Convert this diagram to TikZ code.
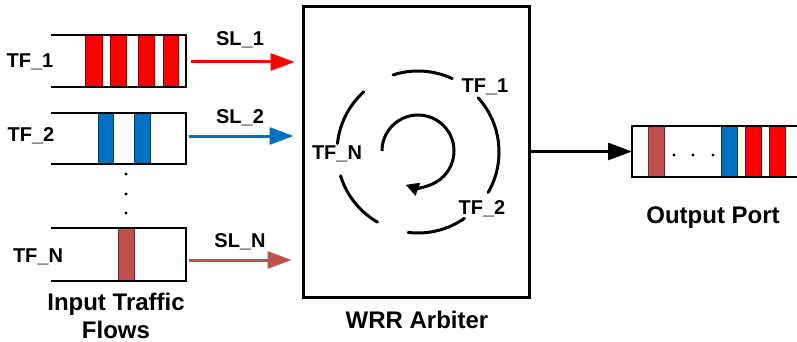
\documentclass[tikz,border=0pt]{standalone}
\usepackage{fontspec}
\setmainfont{Liberation Sans}
\usetikzlibrary{arrows.meta}
\definecolor{cred}{HTML}{FF0000}
\definecolor{cblue}{HTML}{0070C0}
\definecolor{cbrown}{HTML}{C0504D}
\begin{document}
\begin{tikzpicture}[x=1pt,y=-1pt,
  lbl/.style={font=\bfseries\fontsize{20}{22}\selectfont, inner sep=0pt},
  ttl/.style={font=\bfseries\fontsize{24}{28}\selectfont, inner sep=0pt, align=center},
  queue/.style={minimum width=134pt, inner sep=0pt, outer sep=0pt},
  qline/.style={line width=2pt, line cap=rect},
  bar/.style={fill=#1, draw=#1!55!black, line width=0.8pt},
  sl/.style={line width=3pt, draw=#1, -{Triangle[length=24pt,width=17pt,fill=#1]}},
  ring/.style={line width=3pt, line cap=round},
  dot/.style={circle, fill=black, inner sep=0pt, minimum size=3.2pt}
]
\useasboundingbox (0,0) rectangle (797,342);

% ---------- input queues ----------
\node[queue, minimum height=52pt] (q1) at (119,61) {};
\node[queue, minimum height=51pt] (q2) at (119,138.5) {};
\node[queue, minimum height=53pt] (qn) at (119,254.5) {};

% bars
\draw[bar=cred] (85,35) rectangle (102,87);
\draw[bar=cred] (110,35) rectangle (126,87);
\draw[bar=cred] (138,35) rectangle (154,87);
\draw[bar=cred] (163,35) rectangle (178,87);
\draw[bar=cblue] (98,113) rectangle (113,164);
\draw[bar=cblue] (134,113) rectangle (150,164);
\draw[bar=cbrown] (118,228) rectangle (134,281);

\foreach \q in {q1,q2,qn}{
  \draw[qline] (\q.north west) -- (\q.north east) -- (\q.south east) -- (\q.south west);
}

% vertical dots
\node[dot] (d1) at (126,174) {};
\node[dot] (d2) at (126,194) {};
\node[dot] (d3) at (126,213) {};

% labels
\node[lbl] (tf1) at (30,62) {TF\_1};
\node[lbl] (tf2) at (31,136) {TF\_2};
\node[lbl] (tfn) at (38,257) {TF\_N};
\node[lbl] (sl1) at (240,40) {SL\_1};
\node[lbl] (sl2) at (240,118) {SL\_2};
\node[lbl] (sln) at (240,242) {SL\_N};
\node[ttl] (itf) at (116,316) {Input Traffic\\Flows};

% ---------- arbiter ----------
\node[draw, line width=3pt, minimum width=226pt, minimum height=290pt, inner sep=0pt] (arb) at (416,152) {};
\node[ttl] (wrr) at (417,320) {WRR Arbiter};

\draw[sl=cred] ([xshift=5pt]q1.east |- 0,62) -- ([xshift=-7pt]arb.west |- 0,62);
\draw[sl=cblue] ([xshift=3pt]q2.east |- 0,136) -- ([xshift=-8pt]arb.west |- 0,136);
\draw[sl=cbrown] ([xshift=3pt]qn.east |- 0,260) -- ([xshift=-10pt]arb.west |- 0,260);

% ring
\coordinate (C) at (418,152);
\draw[ring] ([shift={(-65:81)}]C) arc[start angle=-65, end angle=-108, radius=81];
\draw[ring] ([shift={(-132:81)}]C) arc[start angle=-132, end angle=-174, radius=81];
\draw[ring] ([shift={(30:81)}]C) arc[start angle=30, end angle=-42, radius=81];
\draw[ring] ([shift={(-197:81)}]C) arc[start angle=-197, end angle=-240, radius=81];
\draw[ring] ([shift={(-263:81)}]C) arc[start angle=-263, end angle=-305, radius=81];

\coordinate (Ci) at (418,151);
\draw[line width=3pt, -{Triangle[length=13pt,width=13pt]}] ([shift={(-180:36)}]Ci) arc[start angle=-180, end angle=110, radius=36];

\node[lbl] (a1) at (485,87) {TF\_1};
\node[lbl] (an) at (337,154) {TF\_N};
\node[lbl] (a2) at (482,209) {TF\_2};

% ---------- output port ----------
\node[minimum width=170pt, minimum height=51pt, inner sep=0pt, outer sep=0pt, anchor=west] (out) at (632,151.5) {};
\draw[bar=cbrown] (648,126) rectangle (664,177);
\draw[bar=cblue] (721,126) rectangle (737,177);
\draw[bar=cred] (745,126) rectangle (761,177);
\draw[bar=cred] (769,126) rectangle (785,177);
\draw[qline] (out.north east) -- (out.north west) -- (out.south west) -- (out.south east);
\node[dot] (h1) at (674,155) {};
\node[dot] (h2) at (693,155) {};
\node[dot] (h3) at (713,155) {};
\node[ttl] (op) at (713,218) {Output Port};

\draw[line width=3pt, -{Triangle[length=24pt,width=17pt]}] (arb.east |- out.west) -- (out.west);
\end{tikzpicture}
\end{document}
